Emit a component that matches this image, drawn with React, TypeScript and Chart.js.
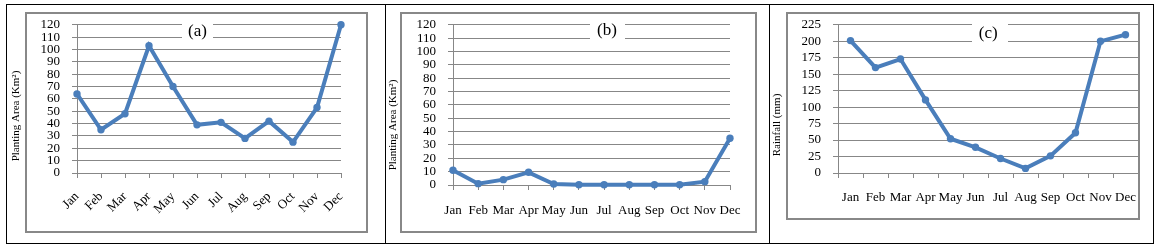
import React, { useEffect, useRef } from 'react';
import { Chart, registerables } from 'chart.js';

Chart.register(...registerables);

// ---- data ----
const months = ['Jan', 'Feb', 'Mar', 'Apr', 'May', 'Jun', 'Jul', 'Aug', 'Sep', 'Oct', 'Nov', 'Dec'];
const plantingAreaA = [64, 35, 48, 103, 70, 39, 41, 28, 42, 25, 53, 120];
const plantingAreaB = [11, 1, 4, 9.5, 0.7, 0.2, 0.2, 0.2, 0.2, 0.2, 2.5, 35];
const rainfallC = [201, 160, 173, 111, 52, 39, 22, 7, 26, 61, 200, 210];

const panelLabels = ['(a)', '(b)', '(c)'];
const yTitles = ['Planting Area (Km\u00B2)', 'Planting Area (Km\u00B2)', 'Rainfall (mm)'];
const yMaxes = [120, 120, 225];
const ySteps = [10, 10, 25];

const SERIF = '"Liberation Serif", "Times New Roman", serif';
const LINE = '#4a7ebb';
const GRID = '#878787';

const overlayPlugin = {
  id: 'overlay',
  beforeDatasetsDraw(chart: any, _args: any, opts: any) {
    const ctx = chart.ctx;
    ctx.save();
    ctx.fillStyle = '#ffffff';
    ctx.fillRect(opts.rect[0], opts.rect[1], opts.rect[2], opts.rect[3]);
    ctx.fillStyle = '#000000';
    ctx.font = `17px ${SERIF}`;
    ctx.textAlign = 'center';
    ctx.textBaseline = 'middle';
    ctx.fillText(opts.label, opts.lx, opts.ly);
    ctx.translate(opts.tx, opts.ty);
    ctx.rotate(-Math.PI / 2);
    ctx.font = `11px ${SERIF}`;
    ctx.fillText(opts.title, 0, 0);
    ctx.restore();
  },
};

type PanelProps = {
  left: number;
  width: number;
  data: number[];
  idx: number;
  padTop: number;
  padRight: number;
  yWidth: number;
  xHeight: number;
  rotate: boolean;
  xOffset: boolean;
  xPad: number;
  overlay: any;
};

function Panel(p: PanelProps) {
  const ref = useRef<HTMLCanvasElement | null>(null);
  useEffect(() => {
    if (!ref.current) return;
    const chart = new Chart(ref.current, {
      type: 'line',
      data: {
        labels: months,
        datasets: [
          {
            data: p.data,
            borderColor: LINE,
            backgroundColor: LINE,
            borderWidth: 4,
            pointRadius: 3.7,
            pointBackgroundColor: LINE,
            pointBorderColor: LINE,
            pointBorderWidth: 0,
            tension: 0,
            clip: false as any,
          },
        ],
      },
      plugins: [overlayPlugin as any],
      options: {
        animation: false,
        responsive: false,
        devicePixelRatio: 1,
        events: [],
        layout: { padding: { left: 0, top: p.padTop, right: p.padRight, bottom: 0 } },
        plugins: {
          legend: { display: false },
          tooltip: { enabled: false },
          title: { display: false },
          overlay: { ...p.overlay, label: panelLabels[p.idx], title: yTitles[p.idx] },
        } as any,
        scales: {
          x: {
            type: 'category',
            offset: p.xOffset,
            grid: {
              display: true,
              drawOnChartArea: false,
              drawTicks: true,
              tickLength: 5,
              color: GRID,
              offset: p.xOffset,
            },
            border: { display: true, color: GRID, width: 1 },
            ticks: {
              color: '#000',
              font: { family: SERIF, size: 13 },
              autoSkip: false,
              minRotation: p.rotate ? 45 : 0,
              maxRotation: p.rotate ? 45 : 0,
              padding: p.xPad,
            },
            afterFit: (s: any) => {
              s.height = p.xHeight;
            },
          },
          y: {
            min: 0,
            max: yMaxes[p.idx],
            grid: { color: GRID, lineWidth: 1, drawTicks: true, tickLength: 5 },
            border: { display: true, color: GRID, width: 1 },
            ticks: {
              stepSize: ySteps[p.idx],
              color: '#000',
              font: { family: SERIF, size: 13 },
              padding: 12,
              autoSkip: false,
            },
            afterFit: (s: any) => {
              s.width = p.yWidth;
            },
          },
        },
      },
    });
    return () => chart.destroy();
  }, []);
  return (
    <canvas
      ref={ref}
      width={p.width}
      height={238}
      style={{ position: 'absolute', left: p.left, top: 5, width: p.width, height: 238, display: 'block' }}
    />
  );
}

const line = (l: number, t: number, w: number, h: number, c: string) => (
  <div style={{ position: 'absolute', left: l, top: t, width: w, height: h, background: c }} />
);

const grayBox = (l: number, t: number, r: number, b: number) => (
  <div
    style={{
      position: 'absolute',
      left: l,
      top: t,
      width: r - l,
      height: b - t,
      border: '2px solid #888888',
      boxSizing: 'border-box',
      pointerEvents: 'none',
    }}
  />
);

export default function App() {
  return (
    <div style={{ position: 'absolute', left: 0, top: 0, width: 1157, height: 248, background: '#fff', overflow: 'hidden' }}>
      <Panel
        left={7}
        width={378}
        data={plantingAreaA}
        idx={0}
        padTop={14}
        padRight={44}
        yWidth={70}
        xHeight={70}
        rotate={true}
        xOffset={false}
        xPad={11}
        overlay={{ rect: [175, 11, 31, 31], lx: 190.5, ly: 26.5, tx: 9, ty: 111 }}
      />
      <Panel
        left={386}
        width={383}
        data={plantingAreaB}
        idx={1}
        padTop={18}
        padRight={39}
        yWidth={67}
        xHeight={58}
        rotate={false}
        xOffset={false}
        xPad={13}
        overlay={{ rect: [204, 10, 35, 31], lx: 221, ly: 25.5, tx: 7, ty: 120 }}
      />
      <Panel
        left={770}
        width={383}
        data={rainfallC}
        idx={2}
        padTop={14}
        padRight={15}
        yWidth={68}
        xHeight={70}
        rotate={false}
        xOffset={true}
        xPad={12}
        overlay={{ rect: [202, 16, 36, 27], lx: 218.3, ly: 28.3, tx: 7, ty: 120 }}
      />
      {grayBox(25, 12, 368, 233)}
      {grayBox(400, 12, 757, 233)}
      {grayBox(786, 12, 1140, 220)}
      {line(6, 4, 1148, 1, '#000')}
      {line(6, 243, 1148, 1, '#000')}
      {line(6, 4, 1, 240, '#000')}
      {line(385, 4, 1, 240, '#000')}
      {line(769, 4, 1, 240, '#000')}
      {line(1153, 4, 1, 240, '#000')}
    </div>
  );
}
